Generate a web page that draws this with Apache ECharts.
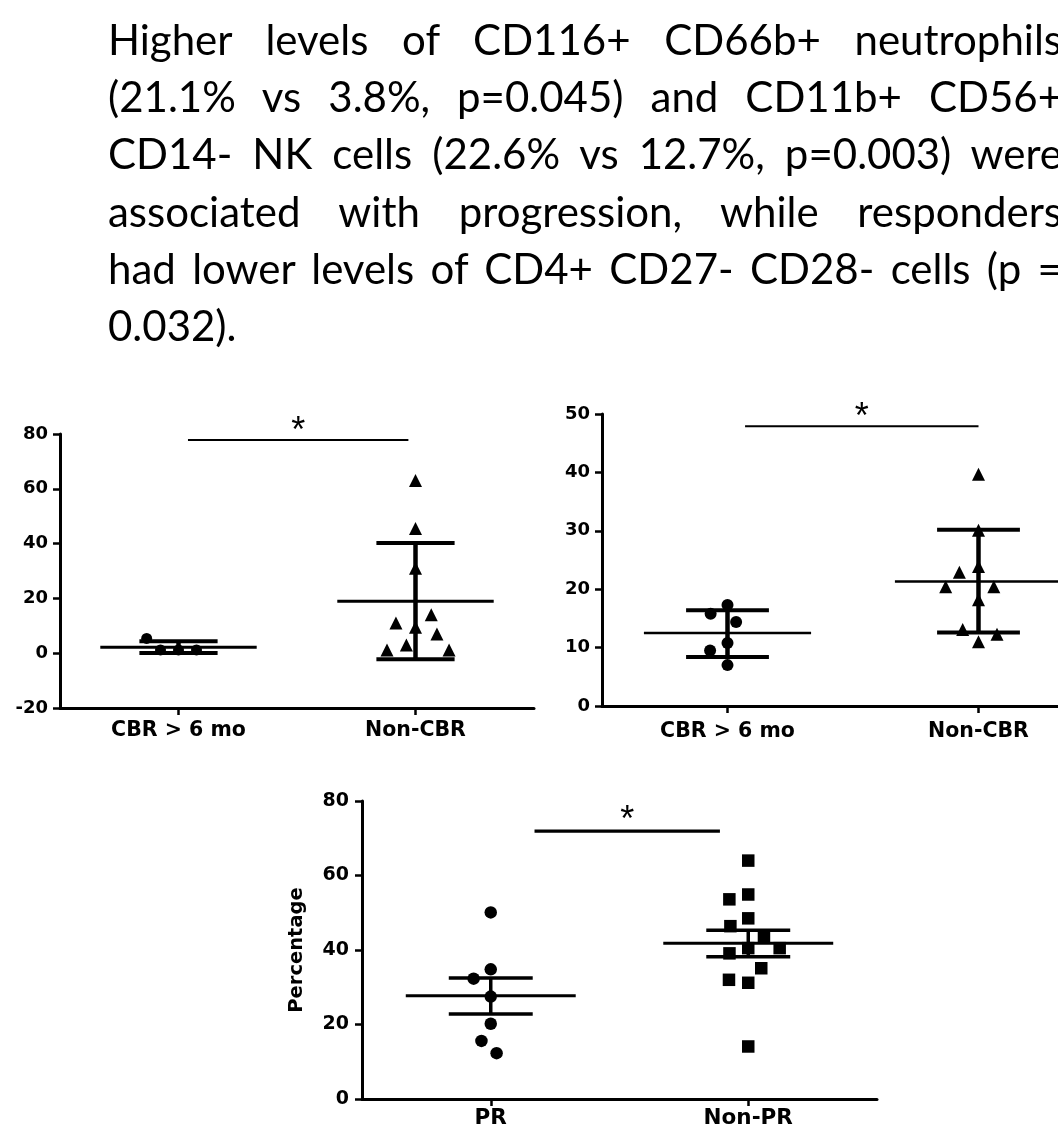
<!DOCTYPE html>
<html>
<head>
<meta charset="utf-8">
<script src="https://cdn.jsdelivr.net/npm/echarts@6/dist/echarts.min.js"></script>
<style>
html,body{margin:0;padding:0;width:1058px;height:1128px;overflow:hidden;background:#fff;}
#chart{position:absolute;left:0;top:0;width:1110px;height:1128px;}
#para{position:absolute;left:108px;top:11px;font-family:Lato,'Noto Sans',sans-serif;font-size:42px;line-height:57.2px;color:#000;pointer-events:none;}
#para div{white-space:pre;transform-origin:0 0;height:57.2px;}
</style>
</head>
<body>
<div id="chart"></div>
<div id="para"></div>
<script>
// ---------- text ----------
const paragraphLines = [
  'Higher levels of CD116+ CD66b+ neutrophils',
  '(21.1% vs 3.8%, p=0.045) and CD11b+ CD56+',
  'CD14- NK cells (22.6% vs 12.7%, p=0.003) were',
  'associated with progression, while responders',
  'had lower levels of CD4+ CD27- CD28- cells (p =',
  '0.032).'
];

// ---------- panel 1 (top left) ----------
const panel1Groups = ['CBR > 6 mo', 'Non-CBR'];
const panel1Ticks = [-20, 0, 20, 40, 60, 80];
const panel1CBR = [1.2, 1.2, 1.2, 5.4];
const panel1NonCBR = [63, 45.5, 31, 9.5, 11, 14, 7, 3, 1.2, 1.2];
const panel1Mean = [2.2, 19.0];
const panel1Lower = [0.1, -2.2];
const panel1Upper = [4.4, 40.2];
const panel1Sig = 77.8;

// ---------- panel 2 (top right) ----------
const panel2Groups = ['CBR > 6 mo', 'Non-CBR'];
const panel2Ticks = [0, 10, 20, 30, 40, 50];
const panel2CBR = [17.3, 15.8, 14.4, 10.8, 9.5, 7.0];
const panel2NonCBR = [39.7, 30.1, 18.2, 11.0, 23.9, 22.9, 20.4, 20.4, 13.1, 12.3];
const panel2Mean = [12.5, 21.3];
const panel2Lower = [8.4, 12.6];
const panel2Upper = [16.4, 30.2];
const panel2Sig = 47.9;

// ---------- panel 3 (bottom) ----------
const panel3Groups = ['PR', 'Non-PR'];
const panel3Ticks = [0, 20, 40, 60, 80];
const panel3YName = 'Percentage';
const panel3PR = [50.1, 27.5, 20.2, 34.8, 32.3, 15.6, 12.3];
const panel3NonPR = [64.0, 31.2, 14.1, 40.5, 39.1, 54.9, 53.6, 48.5, 46.4, 43.6, 40.5, 35.1, 32.0];
const panel3Mean = [27.7, 41.8];
const panel3Lower = [22.8, 38.2];
const panel3Upper = [32.5, 45.3];
const panel3Sig = 71.9;

// ---------- paragraph layout (justified lines) ----------
(function () {
  const para = document.getElementById('para');
  const targetWidth = 954;
  paragraphLines.forEach(function (txt, i) {
    const d = document.createElement('div');
    const s = document.createElement('span');
    s.textContent = txt;
    d.appendChild(s);
    para.appendChild(d);
    if (i < paragraphLines.length - 1) {
      const w = s.getBoundingClientRect().width;
      const n = (txt.match(/ /g) || []).length;
      const ws = (targetWidth - w) / n;
      if (ws < -1.5) {
        d.style.transform = 'scaleX(' + (targetWidth / w) + ')';
      } else {
        s.style.wordSpacing = ws + 'px';
      }
    }
  });
})();

// ---------- chart ----------
const BLACK = '#000';
const AXIS_FONT = 'DejaVu Sans';

function summaryData(mean, lower, upper) {
  return mean.map(function (m, i) { return [i, m, lower[i], upper[i]]; });
}
function points(idx, arr) {
  return arr.map(function (v) { return [idx, v]; });
}

function summaryRender(halfMean, halfCap, wMean, wCap, wStem) {
  return function (params, api) {
    const x = api.value(0);
    const m = api.coord([x, api.value(1)]);
    const lo = api.coord([x, api.value(2)]);
    const hi = api.coord([x, api.value(3)]);
    const bw = api.size([1, 0])[0];
    const hm = bw * halfMean, hc = bw * halfCap;
    return {
      type: 'group',
      children: [
        { type: 'line', shape: { x1: m[0] - hm, y1: m[1], x2: m[0] + hm, y2: m[1] }, style: { stroke: BLACK, lineWidth: wMean } },
        { type: 'line', shape: { x1: m[0], y1: lo[1], x2: m[0], y2: hi[1] }, style: { stroke: BLACK, lineWidth: wStem } },
        { type: 'line', shape: { x1: m[0] - hc, y1: lo[1], x2: m[0] + hc, y2: lo[1] }, style: { stroke: BLACK, lineWidth: wCap } },
        { type: 'line', shape: { x1: m[0] - hc, y1: hi[1], x2: m[0] + hc, y2: hi[1] }, style: { stroke: BLACK, lineWidth: wCap } }
      ]
    };
  };
}

function sigRender(f0, f1, lw, starDy) {
  return function (params, api) {
    const y = api.value(1);
    const a = api.coord([0, y]);
    const b = api.coord([1, y]);
    const x1 = a[0] + (b[0] - a[0]) * f0;
    const x2 = a[0] + (b[0] - a[0]) * f1;
    return {
      type: 'group',
      children: [
        { type: 'line', shape: { x1: x1, y1: a[1], x2: x2, y2: a[1] }, style: { stroke: BLACK, lineWidth: lw } },
        { type: 'text', x: (x1 + x2) / 2, y: a[1] - starDy,
          style: { text: '*', fill: BLACK, font: '36px "Liberation Sans", Arial, sans-serif', align: 'center', verticalAlign: 'middle' } }
      ]
    };
  };
}

function xAxisCfg(gridIndex, groups, fontSize, margin) {
  return {
    type: 'category', gridIndex: gridIndex, data: groups, boundaryGap: true,
    jitter: 140, jitterOverlap: false, jitterMargin: 7,
    axisLine: { show: true, onZero: false, lineStyle: { color: BLACK, width: 3 } },
    axisTick: { show: true, alignWithLabel: true, length: 7, lineStyle: { color: BLACK, width: 2.5 } },
    axisLabel: { interval: 0, margin: margin, color: BLACK, fontFamily: AXIS_FONT, fontWeight: 'bold', fontSize: fontSize },
    splitLine: { show: false }
  };
}
function yAxisCfg(gridIndex, ticks, fontSize, margin) {
  return {
    type: 'value', gridIndex: gridIndex,
    min: ticks[0], max: ticks[ticks.length - 1], interval: ticks[1] - ticks[0],
    axisLine: { show: true, lineStyle: { color: BLACK, width: 3 } },
    axisTick: { show: true, length: 7, lineStyle: { color: BLACK, width: 2.5 } },
    axisLabel: { margin: margin, color: BLACK, fontFamily: AXIS_FONT, fontWeight: 'bold', fontSize: fontSize },
    splitLine: { show: false }
  };
}

const y3 = yAxisCfg(2, panel3Ticks, 19, 13);
y3.name = panel3YName;
y3.nameLocation = 'middle';
y3.nameGap = 55;
y3.nameTextStyle = { color: BLACK, fontFamily: AXIS_FONT, fontWeight: 'bold', fontSize: 19.5 };

const dot = { color: BLACK, opacity: 1 };

const option = {
  backgroundColor: '#fff',
  animation: false,
  grid: [
    { left: 60, top: 434, width: 474, height: 274, outerBoundsMode: 'none', containLabel: false },
    { left: 602, top: 414, width: 502, height: 292, outerBoundsMode: 'none', containLabel: false },
    { left: 362, top: 801, width: 515, height: 298, outerBoundsMode: 'none', containLabel: false }
  ],
  xAxis: [
    xAxisCfg(0, panel1Groups, 20.5, 12),
    xAxisCfg(1, panel2Groups, 20.5, 15),
    xAxisCfg(2, panel3Groups, 21.5, 8)
  ],
  yAxis: [
    yAxisCfg(0, panel1Ticks, 18, 12),
    yAxisCfg(1, panel2Ticks, 18, 12),
    y3
  ],
  series: [
    // panel 1
    { type: 'scatter', xAxisIndex: 0, yAxisIndex: 0, symbol: 'circle', symbolSize: 11, itemStyle: dot, data: points(0, panel1CBR) },
    { type: 'scatter', xAxisIndex: 0, yAxisIndex: 0, symbol: 'triangle', symbolSize: 13, itemStyle: dot, data: points(1, panel1NonCBR) },
    { type: 'custom', xAxisIndex: 0, yAxisIndex: 0, renderItem: summaryRender(0.33, 0.165, 3, 4, 4.5), data: summaryData(panel1Mean, panel1Lower, panel1Upper), z: 3 },
    { type: 'custom', xAxisIndex: 0, yAxisIndex: 0, renderItem: sigRender(0.04, 0.97, 2, 8), data: [[0, panel1Sig]], z: 3 },
    // panel 2
    { type: 'scatter', xAxisIndex: 1, yAxisIndex: 1, symbol: 'circle', symbolSize: 12, itemStyle: dot, data: points(0, panel2CBR) },
    { type: 'scatter', xAxisIndex: 1, yAxisIndex: 1, symbol: 'triangle', symbolSize: 13, itemStyle: dot, data: points(1, panel2NonCBR) },
    { type: 'custom', xAxisIndex: 1, yAxisIndex: 1, renderItem: summaryRender(0.333, 0.165, 2.5, 4, 4.5), data: summaryData(panel2Mean, panel2Lower, panel2Upper), z: 3 },
    { type: 'custom', xAxisIndex: 1, yAxisIndex: 1, renderItem: sigRender(0.07, 1.0, 2, 8), data: [[0, panel2Sig]], z: 3 },
    // panel 3
    { type: 'scatter', xAxisIndex: 2, yAxisIndex: 2, symbol: 'circle', symbolSize: 12.5, itemStyle: dot, data: points(0, panel3PR) },
    { type: 'scatter', xAxisIndex: 2, yAxisIndex: 2, symbol: 'rect', symbolSize: 12.5, itemStyle: dot, data: points(1, panel3NonPR) },
    { type: 'custom', xAxisIndex: 2, yAxisIndex: 2, renderItem: summaryRender(0.33, 0.163, 3, 3.5, 3.5), data: summaryData(panel3Mean, panel3Lower, panel3Upper), z: 3 },
    { type: 'custom', xAxisIndex: 2, yAxisIndex: 2, renderItem: sigRender(0.17, 0.89, 3.3, 10), data: [[0, panel3Sig]], z: 3 }
  ]
};

const chart = echarts.init(document.getElementById('chart'), null, { renderer: 'canvas', width: 1110, height: 1128 });
chart.setOption(option);
</script>
</body>
</html>
